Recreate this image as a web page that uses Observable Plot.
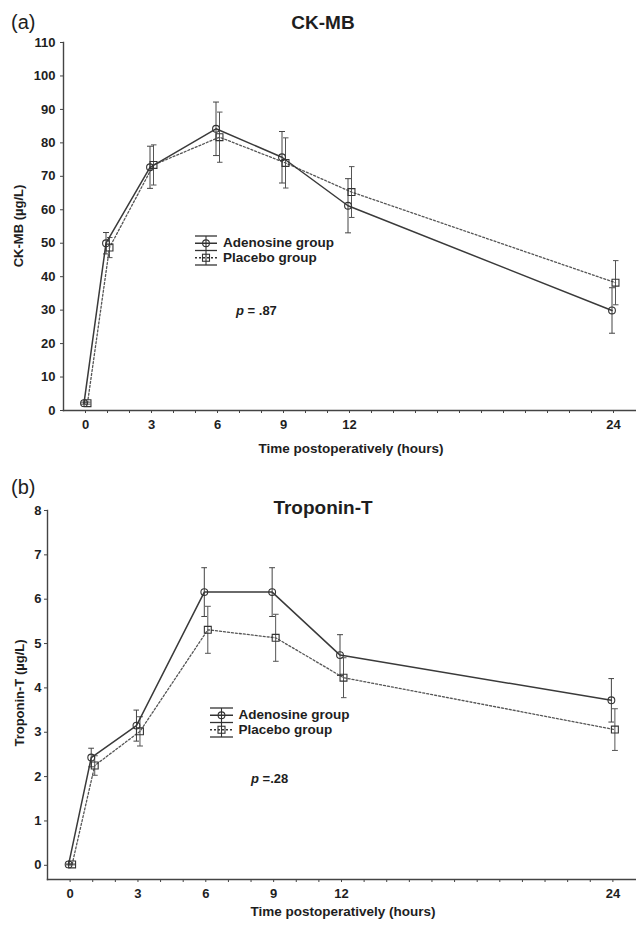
<!DOCTYPE html>
<html><head><meta charset="utf-8">
<script src="https://cdn.jsdelivr.net/npm/d3@7"></script>
<script src="https://cdn.jsdelivr.net/npm/@observablehq/plot@0.6"></script>
<style>
body{margin:0;background:#fff;font-family:"Liberation Sans",Arial,sans-serif;}
#wrap{position:relative;width:636px;height:925px;overflow:hidden;}
#wrap svg{display:block;}
.ov{position:absolute;white-space:nowrap;color:#1e1e1e;line-height:1;}
</style></head><body><div id="wrap"></div>
<script>
// ---- data ----
const hours = [0, 1, 3, 6, 9, 12, 24];
const hourLabels = [0, 3, 6, 9, 12, 24];
const groups = ["Adenosine group", "Placebo group"];

const ckAdenosine   = [2.2, 50.0, 72.7, 84.2, 75.7, 61.2, 29.9];
const ckAdenosineSE = [0.3, 3.2, 6.3, 8.0, 7.7, 8.1, 6.8];
const ckPlacebo     = [2.2, 48.7, 73.4, 81.7, 74.0, 65.3, 38.2];
const ckPlaceboSE   = [0.3, 3.0, 6.0, 7.5, 7.5, 7.6, 6.6];

const tnAdenosine   = [0.02, 2.43, 3.15, 6.16, 6.16, 4.74, 3.72];
const tnAdenosineSE = [0.01, 0.21, 0.35, 0.55, 0.55, 0.46, 0.49];
const tnPlacebo     = [0.02, 2.25, 3.02, 5.31, 5.13, 4.23, 3.06];
const tnPlaceboSE   = [0.01, 0.22, 0.33, 0.53, 0.53, 0.45, 0.47];

const ckTicks = d3.range(0, 111, 10);
const tnTicks = d3.range(0, 9, 1);

// ---- helpers ----
function rowsOf(vals, se, group) {
  return hours.map((t, i) => ({group, t, v: vals[i], lo: vals[i] - se[i], hi: vals[i] + se[i]}));
}

function panel(o) {
  const A = rowsOf(o.a, o.aSE, groups[0]);
  const P = rowsOf(o.p, o.pSE, groups[1]);
  const axisColor = "#444";
  return Plot.plot({
    width: 636, height: o.height,
    marginLeft: o.ml, marginRight: 1, marginTop: o.mt, marginBottom: o.mb,
    style: {fontFamily: "'Liberation Sans', Arial, sans-serif", fontSize: "13px", fontWeight: "bold", color: "#1e1e1e", background: "white", overflow: "visible"},
    x: {domain: [-1, 25]},
    y: {domain: o.yd},
    marks: [
      Plot.axisY({ticks: o.yticks, tickSize: 3, tickPadding: o.tp, label: null, stroke: axisColor}),
      Plot.axisX({ticks: d3.range(0, 25), tickSize: 3, tickPadding: 6, label: null, stroke: axisColor,
                  tickFormat: d => hourLabels.includes(d) ? String(d) : ""}),
      Plot.frame({anchor: "left", stroke: axisColor, strokeWidth: 1.4}),
      Plot.frame({anchor: "bottom", stroke: axisColor, strokeWidth: 1.4}),
      Plot.link(P, {x1: "t", x2: "t", y1: "lo", y2: "hi", stroke: "#555", strokeWidth: 1, markerStart: "tick", markerEnd: "tick", dx: 2}),
      Plot.link(A, {x1: "t", x2: "t", y1: "lo", y2: "hi", stroke: "#444", strokeWidth: 1, markerStart: "tick", markerEnd: "tick", dx: -1.5}),
      Plot.line(P, {x: "t", y: "v", stroke: "#555", strokeWidth: 1.3, strokeDasharray: "2,2", dx: 2}),
      Plot.line(A, {x: "t", y: "v", stroke: "#3a3a3a", strokeWidth: 1.5, dx: -1.5}),
      Plot.dot(P, {x: "t", y: "v", symbol: "square", r: 3.9, fill: "none", stroke: "#333", strokeWidth: 1.1, dx: 2}),
      Plot.dot(A, {x: "t", y: "v", symbol: "circle", r: 3.4, fill: "none", stroke: "#333", strokeWidth: 1.1, dx: -1.5})
    ]
  });
}

const wrap = document.getElementById("wrap");
wrap.appendChild(panel({a: ckAdenosine, aSE: ckAdenosineSE, p: ckPlacebo, pSE: ckPlaceboSE,
  yd: [0, 110], yticks: ckTicks, height: 465, ml: 63, mt: 42, mb: 55, tp: 5}));
wrap.appendChild(panel({a: tnAdenosine, aSE: tnAdenosineSE, p: tnPlacebo, pSE: tnPlaceboSE,
  yd: [-0.32, 8], yticks: tnTicks, height: 460, ml: 47, mt: 45, mb: 46, tp: 3}));

// ---- text overlays ----
function label(html, x, y, opt = {}) {
  const d = document.createElement("div");
  d.className = "ov";
  d.innerHTML = html;
  d.style.left = x + "px";
  d.style.top = y + "px";
  d.style.fontSize = (opt.size || 13) + "px";
  d.style.fontWeight = opt.weight || "bold";
  const tx = opt.anchor === "start" ? "0" : "-50%";
  d.style.transform = `translate(${tx},-50%)` + (opt.rotate ? " rotate(-90deg)" : "");
  wrap.appendChild(d);
}
label("(a)", 11, 22, {size: 20, weight: "normal", anchor: "start"});
label("CK-MB", 323, 22, {size: 19});
label("CK-MB (µg/L)", 18, 226, {size: 13, rotate: true});
label("Time postoperatively (hours)", 351, 449, {size: 13.5});
label("<i>p</i> = .87", 236, 310, {size: 13, anchor: "start"});

label("(b)", 11, 487, {size: 20, weight: "normal", anchor: "start"});
label("Troponin-T", 323, 507, {size: 19});
label("Troponin-T (µg/L)", 19, 693, {size: 13, rotate: true});
label("Time postoperatively (hours)", 343, 912, {size: 13.5});
label("<i>p</i> =.28", 251, 778, {size: 13, anchor: "start"});

// ---- legends ----
const ov = d3.select(wrap).append("svg")
  .attr("width", 636).attr("height", 925)
  .style("position", "absolute").style("left", 0).style("top", 0).style("pointer-events", "none");

function legend(x0, x1, capYs, textX) {
  const cx = (x0 + x1) / 2;
  const g = ov.append("g").attr("stroke", "#333").attr("fill", "none");
  capYs.forEach(y => g.append("line").attr("x1", x0).attr("x2", x1).attr("y1", y).attr("y2", y).attr("stroke-width", 1.3));
  groups.forEach((name, i) => {
    const ya = capYs[i], yb = capYs[i + 1], ym = (ya + yb) / 2;
    g.append("line").attr("x1", cx).attr("x2", cx).attr("y1", ya).attr("y2", yb).attr("stroke-width", 1.1);
    g.append("line").attr("x1", x0).attr("x2", x1).attr("y1", ym).attr("y2", ym)
      .attr("stroke-width", i === 0 ? 1.5 : 1.3).attr("stroke-dasharray", i === 0 ? null : "2,2");
    if (i === 0) g.append("circle").attr("cx", cx).attr("cy", ym).attr("r", 3.4).attr("stroke-width", 1.1);
    else g.append("rect").attr("x", cx - 3.5).attr("y", ym - 3.5).attr("width", 7).attr("height", 7).attr("stroke-width", 1.1);
    label(name, textX, ym, {size: 13.5, anchor: "start"});
  });
}
legend(195, 217, [236, 250.5, 265], 223);
legend(210, 233, [708, 722.5, 737], 238.5);
</script></body></html>
